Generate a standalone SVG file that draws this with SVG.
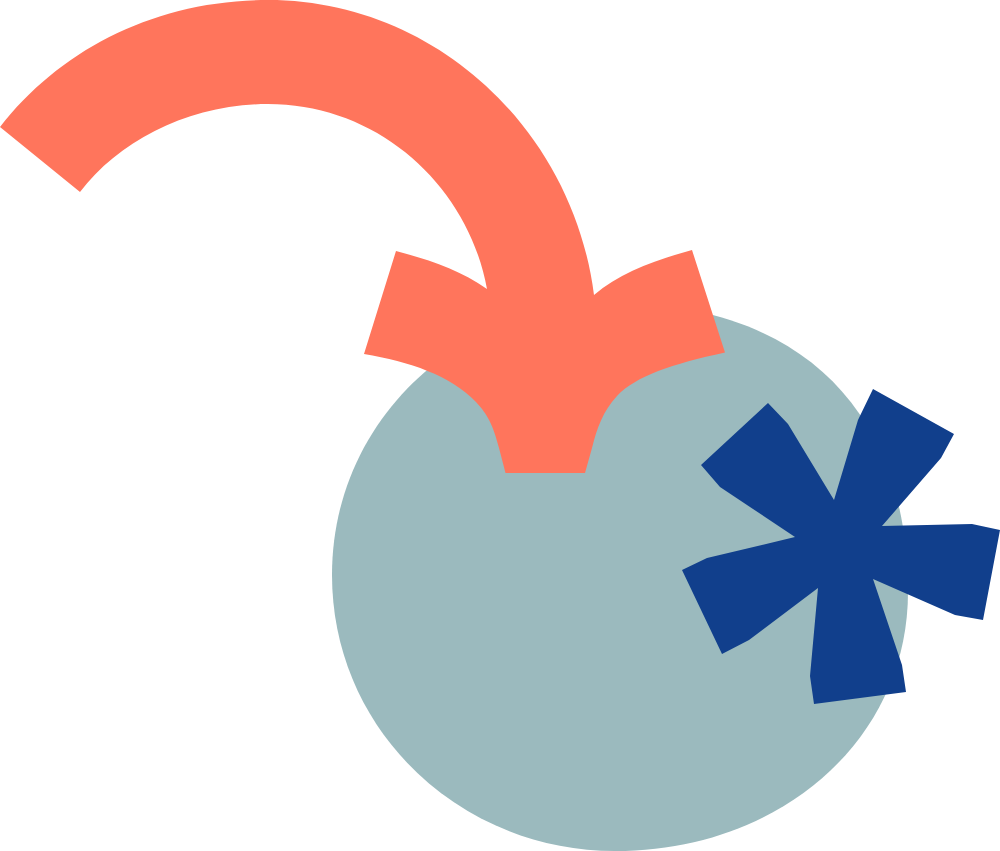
<svg xmlns="http://www.w3.org/2000/svg" width="1000" height="851" viewBox="0 0 1000 851">
<rect width="1000" height="851" fill="#ffffff"/>
<path d="M612 303C800 303 908 410 908 592C908 740 780 851 615 851C460 851 332 730 332 575C332 420 460 303 612 303Z" fill="#9bbabe"/>
<path d="M0 127C60 50 155 0 268 0C435 0 573 130 594 295C620 273 655 260 692 250L725 352.500C672 364 636 376 617 396C603 411 597 428 592 448L585 473H505.500L499 448C493 425 488 415 476 402C450 375 410 362 364 354L396 251C430 260 460 270 487 289C468 185 378 104 268 104C190 104 120 140 80 192Z" fill="#ff755c"/>
<path d="M768 403L788 424L834 500L858 420L873 389L954 434L941 458L882 526L972 524L1000 530L983 620L955 615L873 579L902 665L906 692L814 704L810 676L818 588L749 640L722 654L682 570L707 558L795 537L720 487L701 465Z" fill="#113f8c"/>
</svg>
